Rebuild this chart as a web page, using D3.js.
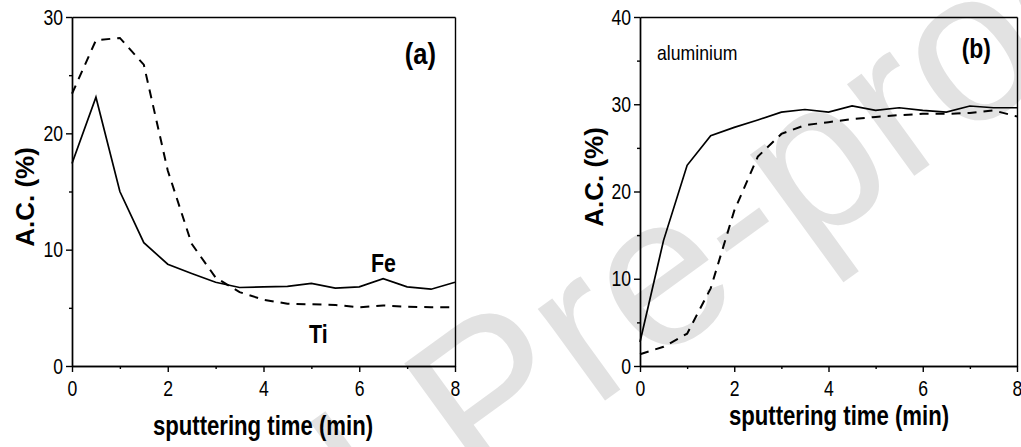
<!DOCTYPE html>
<html>
<head>
<meta charset="utf-8">
<script src="https://cdn.jsdelivr.net/npm/d3@7"></script>
<style>
  body { margin: 0; background: #fff; }
  svg text { font-family: 'Liberation Sans', Arial, sans-serif; fill: #000; }
</style>
</head>
<body>
<svg id="chart" width="1021" height="447"></svg>
<script>
// sputtering time, one sample every half minute
var timeMin = [0, 0.5, 1, 1.5, 2, 2.5, 3, 3.5, 4, 4.5, 5, 5.5, 6, 6.5, 7, 7.5, 8]

// panel (a): atomic concentration (%) of Fe (solid) and Ti (dashed)
var feAC = [17.4, 23.1, 15.0, 10.6, 8.75, 7.95, 7.2, 6.75, 6.8, 6.85, 7.1, 6.7, 6.8, 7.5, 6.8, 6.6, 7.2]
var tiAC = [23.4, 28.0, 28.2, 25.9, 16.8, 10.5, 7.6, 6.35, 5.7, 5.35, 5.3, 5.25, 5.05, 5.2, 5.1, 5.05, 5.05]

// panel (b): aluminium, solid and dashed profiles
var alSolidAC = [2.75, 14.4, 23.0, 26.4, 27.35, 28.2, 29.1, 29.4, 29.1, 29.8, 29.3, 29.6, 29.3, 29.1, 29.8, 29.6, 29.6]
var alDashedAC = [1.35, 2.2, 3.7, 8.9, 17.8, 24.0, 26.6, 27.6, 27.95, 28.3, 28.55, 28.75, 28.9, 28.9, 29.0, 29.3, 28.6]

var xMajorTicks = [0, 2, 4, 6, 8]
var xMinorTicks = [1, 3, 5, 7]
var yMajorTicksA = [0, 10, 20, 30]
var yMinorTicksA = [5, 15, 25]
var yMajorTicksB = [0, 10, 20, 30, 40]
var yMinorTicksB = [5, 15, 25, 35]

var svg = d3.select('#chart')

// No narrow font is installed, so squeeze the glyphs of a normal one instead
function condense (sel, factor) {
  sel.each(function () {
    var w = this.getComputedTextLength()
    d3.select(this).attr('textLength', w * factor).attr('lengthAdjust', 'spacingAndGlyphs')
  })
}

// watermark sits underneath everything
svg.append('text')
  .attr('transform', 'translate(530,455) rotate(-36)')
  .attr('text-anchor', 'middle')
  .style('font-size', '215px')
  .style('fill', '#e2e2e2')
  .text('Journal Pre-proof')

// Draw one panel: box, ticks, lines and labels
function drawPanel (opts) {
  var x = d3.scaleLinear().domain([0, 8]).range([opts.left, opts.right])
  var y = d3.scaleLinear().domain([0, opts.yMax]).range([opts.bottom, opts.top])
  var g = svg.append('g')

  // minor ticks first, then the major ones with labels
  g.append('g')
    .attr('transform', 'translate(0,' + opts.bottom + ')')
    .call(d3.axisBottom(x).tickValues(xMinorTicks).tickSize(3).tickSizeOuter(0).tickFormat(''))
  g.append('g')
    .attr('transform', 'translate(' + opts.left + ',0)')
    .call(d3.axisLeft(y).tickValues(opts.yMinor).tickSize(3).tickSizeOuter(0).tickFormat(''))

  var xAxis = g.append('g')
    .attr('transform', 'translate(0,' + opts.bottom + ')')
    .call(d3.axisBottom(x).tickValues(xMajorTicks).tickSize(6).tickSizeOuter(0).tickPadding(6))
  var yAxis = g.append('g')
    .attr('transform', 'translate(' + opts.left + ',0)')
    .call(d3.axisLeft(y).tickValues(opts.yMajor).tickSize(6).tickSizeOuter(0).tickPadding(3))

  // closing top and right edges of the frame
  g.append('g')
    .attr('transform', 'translate(0,' + opts.top + ')')
    .call(d3.axisTop(x).tickValues([]).tickSizeOuter(0))
  g.append('g')
    .attr('transform', 'translate(' + opts.right + ',0)')
    .call(d3.axisRight(y).tickValues([]).tickSizeOuter(0))

  g.selectAll('.domain, .tick line').attr('stroke', '#000').attr('stroke-width', 1.4)
  g.selectAll('.tick text').attr('font-family', null)
  xAxis.selectAll('text').style('font-size', '22px').attr('dy', '0.8em')
  yAxis.selectAll('text').style('font-size', '22px')
  condense(xAxis.selectAll('text'), 0.8)
  condense(yAxis.selectAll('text'), 0.8)

  var line = d3.line()
    .x(function (d, i) { return x(timeMin[i]) })
    .y(function (d) { return y(d) })

  g.append('path').datum(opts.solid)
    .attr('d', line).attr('fill', 'none').attr('stroke', '#000').attr('stroke-width', 1.7)
  g.append('path').datum(opts.dashed)
    .attr('d', line).attr('fill', 'none').attr('stroke', '#000').attr('stroke-width', 2)
    .attr('stroke-dasharray', '9,7')

  // axis titles
  g.append('text')
    .attr('x', opts.xTitleX)
    .attr('y', opts.xTitleY)
    .attr('text-anchor', 'middle')
    .style('font-size', '27px').style('font-weight', 'bold')
    .text('sputtering time (min)')
    .call(condense, 0.82)
  g.append('text')
    .attr('transform', 'translate(' + opts.yTitleX + ',' + opts.yTitleY + ') rotate(-90)')
    .attr('text-anchor', 'middle')
    .style('font-size', '26px').style('font-weight', 'bold')
    .text('A.C. (%)')

  return { x: x, y: y, g: g }
}

var panelA = drawPanel({
  left: 72, right: 455, top: 17, bottom: 366, yMax: 30,
  yMajor: yMajorTicksA, yMinor: yMinorTicksA,
  solid: feAC, dashed: tiAC,
  xTitleX: 263, xTitleY: 435, yTitleX: 34, yTitleY: 197
})

panelA.g.append('text').attr('x', 436).attr('y', 64).attr('text-anchor', 'end')
  .style('font-size', '30px').style('font-weight', 'bold').text('(a)').call(condense, 0.85)
panelA.g.append('text').attr('x', 371).attr('y', 272)
  .style('font-size', '26px').style('font-weight', 'bold').text('Fe').call(condense, 0.82)
panelA.g.append('text').attr('x', 309).attr('y', 343)
  .style('font-size', '26px').style('font-weight', 'bold').text('Ti').call(condense, 0.82)

var panelB = drawPanel({
  left: 640, right: 1017, top: 17, bottom: 366, yMax: 40,
  yMajor: yMajorTicksB, yMinor: yMinorTicksB,
  solid: alSolidAC, dashed: alDashedAC,
  xTitleX: 839, xTitleY: 425, yTitleX: 603, yTitleY: 177
})

panelB.g.append('text').attr('x', 991).attr('y', 58).attr('text-anchor', 'end')
  .style('font-size', '27px').style('font-weight', 'bold').text('(b)').call(condense, 0.85)
panelB.g.append('text').attr('x', 657).attr('y', 60)
  .style('font-size', '21px').text('aluminium').call(condense, 0.84)
</script>
</body>
</html>
